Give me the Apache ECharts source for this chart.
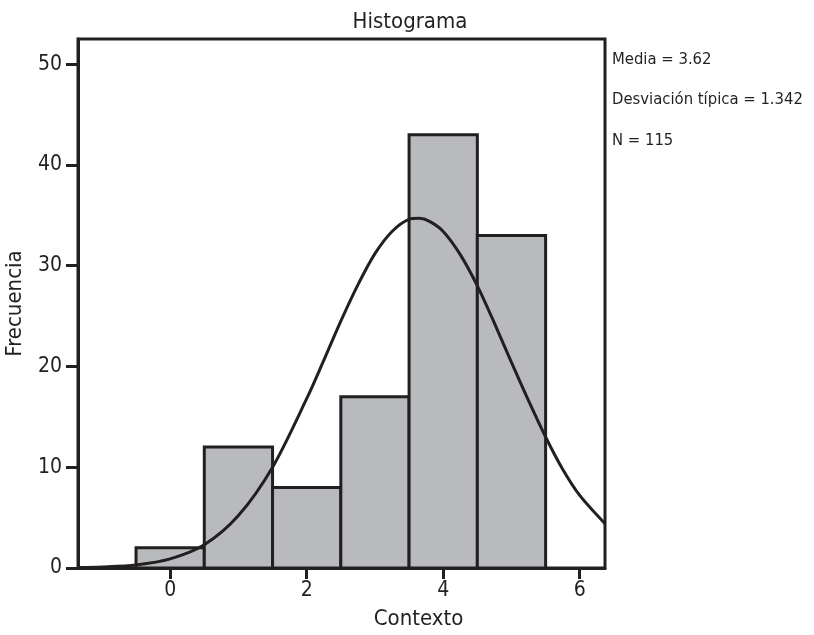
<!DOCTYPE html>
<html>
<head>
<meta charset="utf-8">
<script src="https://cdn.jsdelivr.net/npm/echarts@6/dist/echarts.min.js"></script>
<style>
  html, body { margin: 0; padding: 0; background: #fff; }
  #container { width: 814px; height: 635px; }
</style>
</head>
<body>
<div id="container"></div>
<script>
// histogram bins (center, frequency)
var binCenters = [0, 1, 2, 3, 4, 5];
var binCounts = [2, 12, 8, 17, 43, 33];
// normal curve, points
var curveX = [-1.35, -1, -0.5, 0, 0.5, 1, 1.5, 2, 2.25, 2.5, 2.75, 3, 3.25, 3.5, 3.65, 3.8, 4, 4.25, 4.5, 4.75, 5, 5.25, 5.5, 5.75, 6, 6.37];
var curveY = [0.05, 0.1, 0.3, 0.9, 2.3, 5.2, 10, 16.8, 20.6, 24.5, 28.1, 31.2, 33.4, 34.6, 34.7, 34.4, 33.4, 31.1, 28, 24.3, 20.4, 16.6, 13, 9.8, 7.2, 4.4];
var xTicks = [0, 2, 4, 6];
var yTicks = [0, 10, 20, 30, 40, 50];
var statsLines = ['Media = 3.62', 'Desviación típica = 1.342', 'N = 115'];

var fontName = '"Liberation Sans Narrow", "DejaVu Sans Condensed", sans-serif';
var ink = '#231f20';

var barData = [];
for (var i = 0; i < binCenters.length; i++) {
    barData.push([binCenters[i], binCounts[i]]);
}
var curveData = [];
for (var j = 0; j < curveX.length; j++) {
    curveData.push([curveX[j], curveY[j]]);
}

var statsText = [];
for (var k = 0; k < statsLines.length; k++) {
    statsText.push({
        type: 'text',
        left: 612,
        top: 51 + k * 40.5,
        style: { text: statsLines[k], fontFamily: fontName, fontSize: 16.5, fill: ink }
    });
}

var option = {
    animation: false,
    title: {
        text: 'Histograma',
        left: 405,
        textAlign: 'center',
        top: 6,
        textStyle: { fontFamily: fontName, fontSize: 22, fontWeight: 'normal', color: ink }
    },
    graphic: statsText,
    grid: {
        left: 78, top: 39, right: 209, bottom: 67,
        outerBoundsMode: 'none',
        show: true, borderColor: ink, borderWidth: 3, backgroundColor: 'transparent'
    },
    xAxis: {
        type: 'value',
        min: -1.35,
        max: 6.37,
        interval: 2,
        name: 'Contexto',
        nameLocation: 'middle',
        nameGap: 40,
        nameTextStyle: { fontFamily: fontName, fontSize: 22, color: ink, padding: [0, 0, 0, 154] },
        axisLine: { show: true, onZero: false, lineStyle: { color: ink, width: 3 } },
        axisTick: { show: true, length: 11, lineStyle: { color: ink, width: 3 },
            customValues: xTicks },
        axisLabel: { fontFamily: fontName, fontSize: 21, color: ink, margin: 12,
            customValues: xTicks },
        splitLine: { show: false }
    },
    yAxis: {
        type: 'value',
        min: 0,
        max: 52.5,
        interval: 10,
        name: 'Frecuencia',
        nameLocation: 'middle',
        nameGap: 52,
        nameTextStyle: { fontFamily: fontName, fontSize: 22, color: ink },
        axisLine: { show: true, onZero: false, lineStyle: { color: ink, width: 3 } },
        axisTick: { show: true, length: 12, lineStyle: { color: ink, width: 3 },
            customValues: yTicks },
        axisLabel: { fontFamily: fontName, fontSize: 21, color: ink, margin: 16,
            customValues: yTicks },
        splitLine: { show: false }
    },
    series: [
        {
            type: 'custom',
            data: barData,
            clip: true,
            renderItem: function (params, api) {
                var c = api.value(0);
                var v = api.value(1);
                var p0 = api.coord([c - 0.5, v]);
                var p1 = api.coord([c + 0.5, 0]);
                return {
                    type: 'rect',
                    shape: { x: p0[0], y: p0[1], width: p1[0] - p0[0], height: p1[1] - p0[1] },
                    style: { fill: '#b9babe', stroke: ink, lineWidth: 3 }
                };
            },
            z: 2
        },
        {
            type: 'line',
            data: curveData,
            smooth: 0.3,
            showSymbol: false,
            clip: true,
            lineStyle: { color: ink, width: 3 },
            z: 3
        }
    ]
};

var myChart = echarts.init(document.getElementById('container'));
myChart.setOption(option);
</script>
</body>
</html>
